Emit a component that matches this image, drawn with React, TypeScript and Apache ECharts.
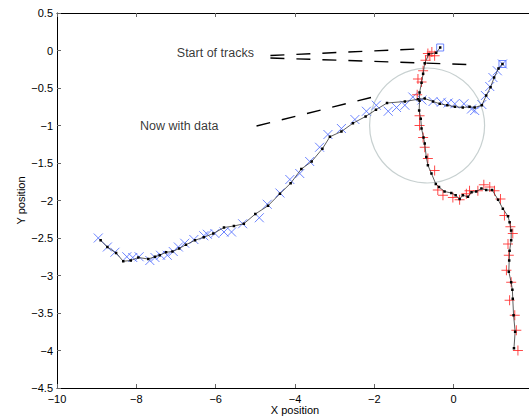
import React, { useEffect, useRef } from "react";
import * as echarts from "echarts";

// Estimated track A (blue observations), from start (upper right) to end (lower left)
const trackA: number[][] = [
  [1.23, -0.18], [1.13, -0.24], [1.02, -0.36], [0.93, -0.49], [0.82, -0.6], [0.71, -0.73],
  [0.53, -0.76], [0.4, -0.75], [0.23, -0.76], [0.03, -0.75], [-0.16, -0.73], [-0.35, -0.71],
  [-0.52, -0.68], [-0.73, -0.64], [-0.9, -0.65], [-1.23, -0.68], [-1.68, -0.7], [-1.96, -0.79],
  [-2.22, -0.88], [-2.54, -0.97], [-2.83, -1.08], [-3.12, -1.15], [-3.31, -1.31], [-3.58, -1.48],
  [-3.84, -1.58], [-4.11, -1.77], [-4.38, -1.91], [-4.68, -2.07], [-5.0, -2.18], [-5.29, -2.31],
  [-5.54, -2.34], [-5.79, -2.36], [-6.06, -2.44], [-6.3, -2.49], [-6.52, -2.53], [-6.75, -2.59],
  [-6.92, -2.64], [-7.09, -2.68], [-7.25, -2.69], [-7.41, -2.73], [-7.53, -2.75], [-7.7, -2.78],
  [-7.95, -2.76], [-8.14, -2.8], [-8.33, -2.81], [-8.51, -2.7], [-8.73, -2.62], [-8.9, -2.53],
];

// Blue "x" observations
const obsA: number[][] = [
  [-8.96, -2.5], [-8.73, -2.62], [-8.54, -2.69], [-8.24, -2.75], [-8.09, -2.76], [-7.93, -2.75],
  [-7.66, -2.8], [-7.53, -2.76], [-7.39, -2.73], [-7.22, -2.73], [-7.07, -2.68], [-6.94, -2.62],
  [-6.78, -2.57], [-6.55, -2.52], [-6.3, -2.47], [-6.21, -2.45], [-6.02, -2.44], [-5.79, -2.42],
  [-5.6, -2.42], [-5.32, -2.31], [-4.9, -2.23], [-4.7, -2.05], [-4.38, -1.9], [-4.13, -1.72],
  [-3.88, -1.64], [-3.63, -1.48], [-3.38, -1.29], [-3.17, -1.12], [-2.83, -1.04], [-2.49, -0.92],
  [-2.2, -0.81], [-1.95, -0.73], [-1.65, -0.81], [-1.44, -0.76], [-1.23, -0.73], [-1.03, -0.62],
  [-0.8, -0.66], [-0.52, -0.68], [-0.31, -0.69], [-0.14, -0.7], [0.03, -0.71], [0.26, -0.71],
  [0.45, -0.78], [0.53, -0.8], [0.71, -0.72], [0.8, -0.6], [0.91, -0.48], [0.99, -0.36],
  [1.1, -0.27], [1.23, -0.18],
];

// Estimated track B (red observations), from start (top) to end (bottom right)
const trackB: number[][] = [
  [-0.34, 0.04], [-0.44, -0.03], [-0.63, -0.05], [-0.73, -0.17], [-0.77, -0.31], [-0.81, -0.43],
  [-0.86, -0.56], [-0.86, -0.67], [-0.87, -0.8], [-0.83, -0.91], [-0.81, -1.04], [-0.76, -1.16],
  [-0.73, -1.24], [-0.69, -1.42], [-0.65, -1.53], [-0.56, -1.64], [-0.45, -1.78], [-0.37, -1.82],
  [-0.23, -1.88], [-0.06, -1.9], [0.05, -1.93], [0.15, -1.98], [0.23, -1.93], [0.36, -1.95],
  [0.45, -1.89], [0.57, -1.88], [0.7, -1.84], [0.82, -1.86], [0.97, -1.86], [1.12, -1.99],
  [1.24, -2.11], [1.37, -2.21], [1.41, -2.29], [1.45, -2.4], [1.45, -2.53], [1.41, -2.67],
  [1.4, -2.8], [1.39, -2.95], [1.45, -3.09], [1.48, -3.19], [1.49, -3.31], [1.51, -3.53],
  [1.55, -3.75], [1.52, -3.97],
];

// Red "+" observations
const obsB: number[][] = [
  [-0.55, -0.02], [-0.65, -0.04], [-0.48, -0.07], [-0.6, -0.07], [-0.71, -0.13], [-0.77, -0.27],
  [-0.9, -0.38], [-0.81, -0.42], [-0.92, -0.59], [-0.86, -0.87], [-0.86, -1.0], [-0.77, -1.16],
  [-0.73, -1.29], [-0.65, -1.44], [-0.48, -1.6], [-0.4, -1.86], [-0.27, -1.93], [-0.02, -1.96],
  [0.15, -1.99], [0.32, -1.91], [0.4, -1.87], [0.61, -1.87], [0.76, -1.79], [0.91, -1.82],
  [1.03, -1.87], [1.18, -1.98], [1.28, -2.2], [1.43, -2.35], [1.49, -2.44], [1.37, -2.58],
  [1.39, -2.73], [1.33, -2.93], [1.45, -3.09], [1.41, -3.33], [1.54, -3.53], [1.58, -3.73],
  [1.62, -4.0],
];

// Track starts (squares)
const starts: number[][] = [[1.23, -0.18], [-0.34, 0.04]];

// Annotation pointer lines
const pointerStart1: number[][] = [[-4.62, -0.067], [-0.82, 0.023]];
const pointerStart2: number[][] = [[-4.62, -0.1], [0.55, -0.19]];
const pointerNow: number[][] = [[-4.97, -1.007], [-1.98, -0.613]];

const labelStart: number[] = [-6.98, -0.036];
const labelNow: number[] = [-7.91, -1.007];
const circleCenter: number[] = [-0.67, -1.0];

const xTicks = { min: -10, max: 2, interval: 2 };
const yTicks = { min: -4.5, max: 0.5, interval: 0.5 };

const fmt = (v: number) => (v === 2 ? "" : String(v).replace("-", "\u2212"));

export default function App() {
  const ref = useRef<HTMLDivElement>(null);
  useEffect(() => {
    document.body.style.margin = "0";
    if (!ref.current) return;
    const chart = echarts.init(ref.current, null, { renderer: "svg" });
    const font = "Liberation Sans, Arial, Helvetica, sans-serif";
    const axisCommon = {
      axisLine: { show: true, onZero: false, lineStyle: { color: "#000", width: 1 } },
      axisTick: { show: true, inside: true, length: 4, lineStyle: { color: "#666", width: 1 } },
      splitLine: { show: false },
    };
    const dashed = {
      type: "line",
      symbol: "none",
      lineStyle: { color: "#000", width: 1.4, type: [14, 12] },
      silent: true,
      z: 5,
    };
    chart.setOption({
      animation: false,
      backgroundColor: "#fff",
      grid: { left: 57, top: 13, width: 476, height: 375, containLabel: false, outerBoundsMode: "none" },
      xAxis: [
        {
          type: "value",
          ...xTicks,
          position: "bottom",
          ...axisCommon,
          axisLabel: { formatter: fmt, color: "#000", fontSize: 11, fontFamily: font, margin: 5 },
          name: "X position",
          nameLocation: "middle",
          nameGap: 16,
          nameMoveOverlap: false,
          nameTextStyle: { color: "#000", fontSize: 11, fontFamily: font },
        },
        {
          type: "value",
          ...xTicks,
          position: "top",
          ...axisCommon,
          axisLabel: { show: false },
        },
      ],
      yAxis: [
        {
          type: "value",
          ...yTicks,
          position: "left",
          ...axisCommon,
          axisLabel: { formatter: fmt, color: "#000", fontSize: 11, fontFamily: font, margin: 4 },
          name: "Y position",
          nameLocation: "middle",
          nameGap: 31,
          nameMoveOverlap: false,
          nameTextStyle: { color: "#000", fontSize: 11, fontFamily: font },
        },
        {
          type: "value",
          ...yTicks,
          position: "right",
          ...axisCommon,
          axisLabel: { show: false },
        },
      ],
      series: [
        {
          type: "scatter",
          data: [circleCenter],
          symbol: "circle",
          symbolSize: 115,
          itemStyle: { color: "transparent", borderColor: "#b9c4c4", borderWidth: 1.2 },
          silent: true,
          z: 1,
        },
        {
          type: "scatter",
          data: obsA,
          symbol: "path://M0,0L10,10M10,0L0,10",
          symbolSize: 9,
          itemStyle: { color: "transparent", borderColor: "#5470ff", borderWidth: 1, opacity: 0.85 },
          silent: true,
          z: 2,
        },
        {
          type: "scatter",
          data: obsB,
          symbol: "path://M5,0L5,10M0,5L10,5",
          symbolSize: 10,
          itemStyle: { color: "transparent", borderColor: "#ff2a2a", borderWidth: 1, opacity: 0.85 },
          silent: true,
          z: 2,
        },
        {
          type: "scatter",
          data: starts,
          symbol: "rect",
          symbolSize: 7,
          itemStyle: { color: "transparent", borderColor: "#4f6dff", borderWidth: 1 },
          silent: true,
          z: 3,
        },
        {
          type: "line",
          data: trackA,
          symbol: "rect",
          symbolSize: 2.5,
          showAllSymbol: true,
          itemStyle: { color: "#000" },
          lineStyle: { color: "#333", width: 0.8 },
          silent: true,
          z: 4,
        },
        {
          type: "line",
          data: trackB,
          symbol: "rect",
          symbolSize: 2.5,
          showAllSymbol: true,
          itemStyle: { color: "#000" },
          lineStyle: { color: "#333", width: 0.8 },
          silent: true,
          z: 4,
        },
        { ...dashed, data: pointerStart1 },
        { ...dashed, data: pointerStart2 },
        { ...dashed, data: pointerNow },
        {
          type: "scatter",
          data: [
            { name: "Start of tracks", value: labelStart },
            { name: "Now with data", value: labelNow },
          ],
          symbolSize: 0,
          label: {
            show: true,
            position: "right",
            distance: 0,
            formatter: "{b}",
            color: "#000",
            fontSize: 12.5,
            fontFamily: font,
          },
          silent: true,
          z: 6,
        },
      ],
    });
    return () => chart.dispose();
  }, []);
  return <div ref={ref} style={{ width: 529, height: 419 }} />;
}
